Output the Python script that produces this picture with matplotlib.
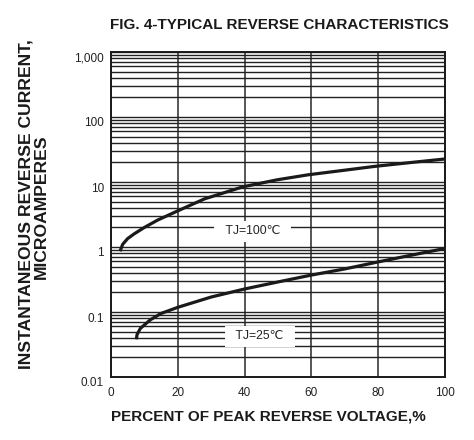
"""Fig. 4 - typical reverse characteristics (log scale, two junction temps)."""

import matplotlib
matplotlib.use("Agg")
import matplotlib.pyplot as plt
import matplotlib.transforms as mtransforms
from matplotlib.ticker import FixedLocator, LogLocator, NullFormatter

plt.rcParams['font.family'] = ['Liberation Sans', 'DejaVu Sans']

# curve data
pct_100 = [2.7, 3.5, 5, 7, 10, 14, 20, 28, 39.4, 49.7, 59, 70, 79, 90, 100]
ir_100 = [0.86, 1.1, 1.35, 1.6, 2.0, 2.6, 3.6, 5.5, 8.4, 10.8, 12.9, 15.2, 17.4, 20, 22.6]

pct_25 = [7.6, 7.8, 8.8, 11.8, 15, 20, 30, 40, 50, 60, 70, 80, 90, 100]
ir_25 = [0.038, 0.045, 0.056, 0.076, 0.095, 0.118, 0.17, 0.226, 0.29, 0.37, 0.46, 0.59, 0.75, 0.95]

x_ticks = [0, 20, 40, 60, 80, 100]
y_ticks = [0.01, 0.1, 1, 10, 100, 1000]
y_tick_labels = ['0.01', '0.1', '1', '10', '100', '1,000']

labels = ['TJ=100\u2103', 'TJ=25\u2103']
label_pos = [(42.4, 1.74), (44.6, 0.042)]

ink = '#1a1a1a'
grid_col = '#222222'

fig = plt.figure(figsize=(4.74, 4.40), dpi=100)
ax = fig.add_axes([111 / 474, 1 - 377 / 440, (445 - 111) / 474, (377 - 52) / 440])

ax.set_yscale('log')
ax.set_xlim(0, 100)
ax.set_ylim(0.01, 1000)

# grid: vertical lines at every 20 %, full log grid horizontally
ax.xaxis.set_major_locator(FixedLocator(x_ticks))
ax.yaxis.set_major_locator(FixedLocator(y_ticks))
ax.yaxis.set_minor_locator(LogLocator(base=10, subs=range(2, 10)))
ax.yaxis.set_minor_formatter(NullFormatter())
ax.set_yticklabels(y_tick_labels)
ax.grid(True, which='major', axis='x', color='#3a3a3a', lw=1.2)
ax.grid(True, which='both', axis='y', color=grid_col, lw=1.0)
ax.tick_params(which='both', length=0)
ax.tick_params(axis='y', pad=5, labelsize=8.5, labelcolor='#222222')
ax.tick_params(axis='x', pad=7, labelsize=8.5, labelcolor='#222222')

# y labels sit a few pixels below their grid line in the original
shift = mtransforms.ScaledTranslation(0, -0.05, fig.dpi_scale_trans)
for lbl in ax.get_yticklabels():
    lbl.set_transform(lbl.get_transform() + shift)

for s in ax.spines.values():
    s.set_color(ink)
    s.set_linewidth(1.4)

ax.plot(pct_100, ir_100, color=ink, lw=2.3, solid_capstyle='butt', zorder=3)
ax.plot(pct_25, ir_25, color=ink, lw=2.3, solid_capstyle='butt', zorder=3)

for txt, (px, py) in zip(labels, label_pos):
    ax.text(px, py, '  ' + txt + '  ', ha='center', va='center', fontsize=8.8,
            color='#222222', zorder=4,
            bbox=dict(boxstyle='square,pad=0.35', fc='white', ec='none'))

fig.text(279.5 / 474, 1 - 25 / 440, 'FIG. 4-TYPICAL REVERSE CHARACTERISTICS',
         ha='center', va='center', fontsize=11, fontweight='bold', color=ink)
fig.text(268.7 / 474, 1 - 416 / 440, 'PERCENT OF PEAK REVERSE VOLTAGE,%',
         ha='center', va='center', fontsize=11, fontweight='bold', color=ink)
fig.text(26 / 474, 1 - 204 / 440, 'INSTANTANEOUS REVERSE CURRENT,',
         ha='center', va='center', rotation=90, fontsize=12.6,
         fontweight='bold', color=ink)
fig.text(41 / 474, 1 - 207 / 440, 'MICROAMPERES',
         ha='center', va='center', rotation=90, fontsize=12.6,
         fontweight='bold', color=ink)

fig.savefig('out.png', dpi=100)
